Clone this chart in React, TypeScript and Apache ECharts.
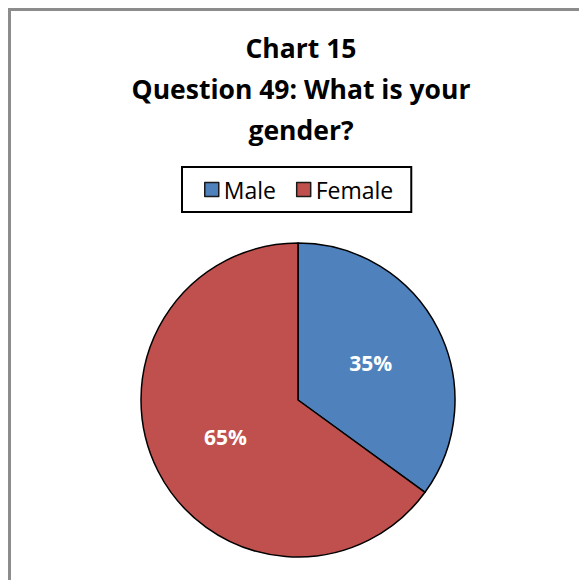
import React, { useEffect, useRef } from "react";
import * as echarts from "echarts";

const categories = ["Male", "Female"];
const values = [35, 65];
const colors = ["#4F81BD", "#C0504D"];
const titleLines = ["Chart 15", "Question 49: What is your", "gender?"];

export default function App() {
  const ref = useRef<HTMLDivElement>(null);
  useEffect(() => {
    const chart = echarts.init(ref.current!, null, { renderer: "svg" });
    chart.setOption({
      animation: false,
      backgroundColor: "#ffffff",
      graphic: [
        {
          type: "rect",
          shape: { x: 9.5, y: 9.5, width: 620, height: 620 },
          style: { fill: "none", stroke: "#8c8c8c", lineWidth: 3 },
          silent: true,
        },
      ],
      title: {
        text: titleLines.join("\n"),
        left: 296,
        textAlign: "center",
        top: 22,
        textStyle: {
          fontFamily: "Open Sans",
          fontWeight: "bold",
          fontSize: 26.5,
          lineHeight: 41,
          color: "#000",
        },
      },
      legend: {
        data: categories,
        left: 182,
        top: 167,
        padding: [11, 18, 11, 22],
        borderColor: "#000",
        borderWidth: 2,
        itemWidth: 14,
        itemHeight: 14,
        itemGap: 20,
        itemStyle: { borderColor: "#1a1a1a", borderWidth: 1.5 },
        icon: "rect",
        textStyle: { fontFamily: "Open Sans", fontSize: 23, color: "#000" },
      },
      series: [
        {
          type: "pie",
          center: [298, 400],
          radius: 157,
          startAngle: 90,
          clockwise: true,
          label: {
            position: "inside",
            formatter: "{d}%",
            color: "#fff",
            fontWeight: "bold",
            fontSize: 21,
            fontFamily: "Open Sans",
          },
          labelLine: { show: false },
          itemStyle: { borderColor: "#000", borderWidth: 1.5 },
          emphasis: { disabled: true },
          data: categories.map((c, i) => ({
            name: c,
            value: values[i],
            itemStyle: { color: colors[i] },
          })),
        },
      ],
    });
    return () => chart.dispose();
  }, []);
  return (
    <div
      ref={ref}
      style={{ position: "fixed", left: 0, top: 0, width: 579, height: 580 }}
    />
  );
}
